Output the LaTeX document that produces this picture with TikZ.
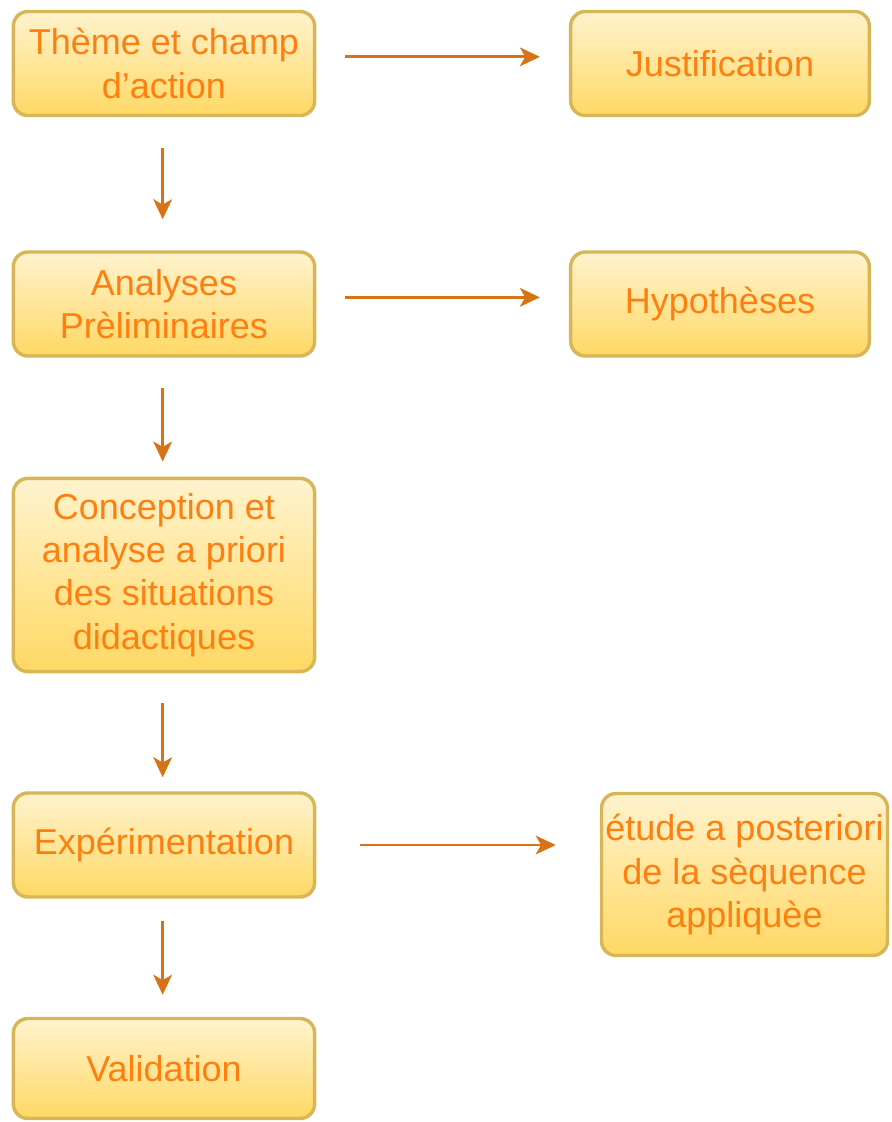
\documentclass[tikz,border=0pt]{standalone}
\usepackage{fontspec}
\setmainfont{Liberation Sans}
\usepackage{xcolor}
\usepackage{tikz}
\usetikzlibrary{arrows.meta}
\usetikzlibrary{positioning}

\definecolor{boxtop}{RGB}{255,243,206}
\definecolor{boxbottom}{RGB}{255,216,100}
\definecolor{boxline}{RGB}{214,182,86}
\definecolor{boxtext}{RGB}{252,128,16}
\definecolor{flowline}{RGB}{215,115,20}

\begin{document}
\begin{tikzpicture}[x=0.75pt,y=0.75pt,yscale=-1,xscale=1,
  stagebox/.style={draw=boxline, line width=2.6pt, rounded corners=11pt, top color=boxtop, bottom color=boxbottom, text=boxtext, font=\fontsize{27}{32.5}\selectfont, align=center, inner sep=1pt, minimum width=226pt, minimum height=78pt},
  flow/.style={draw=flowline, line width=2.2pt, -{Stealth[length=15pt,width=14pt,inset=4pt]}}]
  %set diagram left start at 0, and has height of 1122
  \useasboundingbox (0,0) rectangle (892,1122);

  % Text Node
  \draw (164,63.5) node [stagebox] (theme) {Thème et champ\\d’action};
  % Text Node
  \draw (720,63.5) node [stagebox, minimum width=224pt] (justif) {Justification};
  % Text Node
  \draw (164,304) node [stagebox] (analyses) {Analyses\\Prèliminaires};
  % Text Node
  \draw (720,304) node [stagebox, minimum width=224pt] (hypo) {Hypothèses};
  % Text Node
  \draw (164,575) node [stagebox, minimum height=145pt] (concept) {Conception et\\analyse a priori\\des situations\\didactiques};
  % Text Node
  \draw (164,845) node [stagebox] (experim) {Expérimentation};
  % Text Node
  \draw (744.5,874.5) node [stagebox, minimum width=214.5pt, minimum height=121.5pt] (etude) {étude a posteriori\\de la sèquence\\appliquèe};
  % Text Node
  \draw (164,1068.5) node [stagebox, minimum height=75pt] (valid) {Validation};

  %Straight Lines
  \draw [flow, shorten <=21.75pt, shorten >=21.75pt] ([yshift=-5pt]theme.east) -- ([yshift=-5pt]justif.west);
  \draw [flow, shorten <=21.75pt, shorten >=21.75pt] ([yshift=-5pt]analyses.east) -- ([yshift=-5pt]hypo.west);
  \draw [flow, shorten <=33pt, shorten >=33pt] (experim.east) -- (etude.west |- experim.east);
  %Straight Lines
  \draw [flow, shorten <=23.25pt, shorten >=23.25pt] ([xshift=-1pt]theme.south) -- ([xshift=-1pt]analyses.north);
  \draw [flow, shorten <=22.5pt, shorten >=11.25pt] ([xshift=-1pt]analyses.south) -- ([xshift=-1pt]concept.north);
  \draw [flow, shorten <=22.5pt, shorten >=10.5pt] ([xshift=-1pt]concept.south) -- ([xshift=-1pt]experim.north);
  \draw [flow, shorten <=16.5pt, shorten >=16.5pt] ([xshift=-1pt]experim.south) -- ([xshift=-1pt]valid.north);
\end{tikzpicture}
\end{document}
